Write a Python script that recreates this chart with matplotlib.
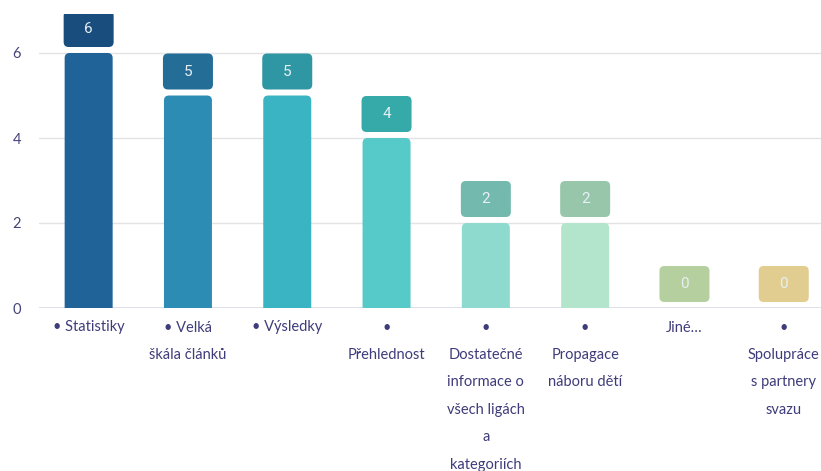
import matplotlib
matplotlib.use("Agg")
import matplotlib.pyplot as plt
from matplotlib.patches import FancyBboxPatch

labels = ["• Statistiky", "• Velká\nškála článků", "• Výsledky", "•\nPřehlednost",
          "•\nDostatečné\ninformace o\nvšech ligách\na\nkategoriích",
          "•\nPropagace\nnáboru dětí", "Jiné…", "•\nSpolupráce\ns partnery\nsvazu"]
values = [6, 5, 5, 4, 2, 2, 0, 0]
bar_colors = ["#1f6399", "#2d8cb4", "#3ab4c3", "#56c9c9", "#8fdacf", "#b3e5cc", "#c8dcb0", "#ecdca8"]
box_colors = ["#184d7d", "#236d97", "#2f97a3", "#36a9a9", "#73b9ae", "#98c6ab", "#b5cf9e", "#e0cd8f"]

plt.rcParams['font.family'] = ['Lato', 'DejaVu Sans']

fig = plt.figure(figsize=(8.21, 4.71), dpi=100)
ax = fig.add_axes([39 / 821, 163 / 471, 1 - 39 / 821, (308 - 14) / 471])

px_x = 99.3   # pixels per x unit
px_y = 42.5   # pixels per y unit
ax.set_xlim(-0.5, -0.5 + (821 - 39) / px_x)
ax.set_ylim(0, (308 - 14) / px_y)

bw = 48 / px_x
r = 5 / px_x
asp = (5 / px_y) / r
for i, v in enumerate(values):
    if v > 0:
        ax.add_patch(FancyBboxPatch((i - bw / 2, -0.5), bw, v + 0.5,
                                    boxstyle=f"round,pad=0,rounding_size={r}",
                                    mutation_aspect=asp, fc=bar_colors[i], ec="none",
                                    zorder=2))
    gap = 6 / px_y
    bh = 36 / px_y
    lw = 50 / px_x
    ax.add_patch(FancyBboxPatch((i - lw / 2, v + gap), lw, bh,
                                boxstyle=f"round,pad=0,rounding_size={r}",
                                mutation_aspect=asp, fc=box_colors[i], ec="none",
                                zorder=3))
    ax.text(i, v + gap + bh / 2, str(v), ha="center", va="center",
            color="#e8f0f4", fontsize=11, zorder=4, family="Roboto")

ax.set_yticks([0, 2, 4, 6])
ax.grid(axis="y", color="#e3e3e3", lw=1, zorder=0)
ax.axhline(0, color="#d9dde9", lw=2, zorder=1)
for s in ax.spines.values():
    s.set_visible(False)
ax.tick_params(axis="y", length=0, pad=16, labelcolor="#45447a", labelsize=10.5)
ax.set_yticklabels(["0", "2", "4", "6"], ha="center")

ax.set_xticks(range(len(labels)))
ax.set_xticklabels(labels, linespacing=2.22, fontsize=10.5, color="#3e3c7a")
ax.tick_params(axis="x", length=0, pad=9)

fig.savefig("out.png", dpi=100)
